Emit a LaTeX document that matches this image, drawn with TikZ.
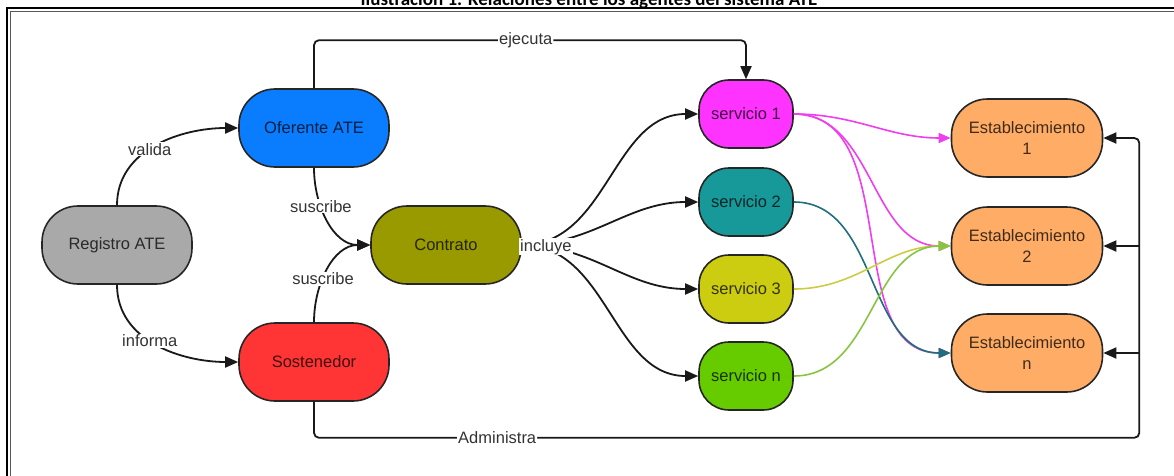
\documentclass[tikz,border=0pt]{standalone}
\usepackage{fontspec}
\setmainfont{Liberation Sans}
\newfontfamily\titlefont{Carlito}
\usetikzlibrary{arrows.meta,calc}
\definecolor{cReg}{HTML}{A9A9A9}
\definecolor{cOfe}{HTML}{0A7DFF}
\definecolor{cSos}{HTML}{FF3535}
\definecolor{cCon}{HTML}{999900}
\definecolor{cS1}{HTML}{FF33FF}
\definecolor{cS2}{HTML}{17999A}
\definecolor{cS3}{HTML}{CCCC11}
\definecolor{cSn}{HTML}{66CC00}
\definecolor{cEst}{HTML}{FFAD66}
\definecolor{lS1}{HTML}{EE3EEE}
\definecolor{lS2}{HTML}{1F6E7C}
\definecolor{lS3}{HTML}{CCCC44}
\definecolor{lSn}{HTML}{88C444}
\begin{document}
\begin{tikzpicture}[x=1pt,y=1pt,
  box/.style={draw=black!85, line width=1.6pt, rounded corners=36pt, minimum width=150pt, minimum height=78pt, inner sep=2pt, align=center, font=\fontsize{16.5}{21}\selectfont},
  nodec/.style={box, fill=#1, text=black!75!#1},
  svc/.style={nodec=#1, minimum width=94pt, minimum height=68pt, rounded corners=30pt},
  conn/.style={draw=black!90, line width=1.8pt, -{Triangle[length=13pt,width=11pt]}},
  cline/.style={draw=#1, line width=1.6pt, -{Triangle[length=12pt,width=10pt]}},
  lbl/.style={fill=white, text=black!80, inner sep=1pt, font=\fontsize{16.5}{20}\selectfont},
]
\useasboundingbox (0,0) rectangle (1174,475);
\clip (0,0) rectangle (1174,475);

% frame and title
\draw[line width=2pt] (6.7,-10) -- (6.7,466.7) -- (1190,466.7);
\draw[line width=1pt, black!65] (10.3,-10) -- (10.3,463) -- (1190,463);
\node[anchor=base, font=\titlefont\bfseries\fontsize{19}{21}\selectfont] (title) at (589,469) {Ilustración 1. Relaciones entre los agentes del sistema ATE};

% nodes
\node[nodec=cReg] (reg) at (117,230) {Registro ATE};
\node[nodec=cOfe] (ofe) at (314,347) {Oferente ATE};
\node[nodec=cSos] (sos) at (314,113) {Sostenedor};
\node[nodec=cCon] (con) at (446,230) {Contrato};
\node[svc=cS1] (s1) at (746,361) {servicio 1};
\node[svc=cS2] (s2) at (746,273) {servicio 2};
\node[svc=cS3] (s3) at (746,186) {servicio 3};
\node[svc=cSn] (sn) at (746,99) {servicio n};
\node[nodec=cEst, minimum width=151pt] (e1) at (1027,337) {Establecimiento\\1};
\node[nodec=cEst, minimum width=151pt] (e2) at (1027,229) {Establecimiento\\2};
\node[nodec=cEst, minimum width=151pt] (en) at (1027,122) {Establecimiento\\n};

% left connectors
\draw[conn] (reg.north) to[out=90,in=180] node[lbl,pos=0.45] {valida} (ofe.west);
\draw[conn] (reg.south) to[out=-90,in=180] node[lbl,pos=0.45] {informa} (sos.west);
\draw[conn] (ofe.south) to[out=-90,in=180] node[lbl,pos=0.35] {suscribe} (con.west);
\draw[conn] (sos.north) to[out=90,in=180] node[lbl,pos=0.4] {suscribe} (con.west);

% ejecuta
\draw[conn, rounded corners=5pt] (ofe.north) -- ++(0,48) -| node[lbl,pos=0.245] {ejecuta} (s1.north);

% colored lines
\draw[cline=lS1] (s1.east) to[out=0,in=180] (e1.west);
\draw[cline=lS1] (s1.east) to[out=0,in=180] (e2.west);
\draw[cline=lS1] (s1.east) to[out=0,in=180] (en.west);
\draw[cline=lS2] (s2.east) to[out=0,in=180] (en.west);
\draw[cline=lS3] (s3.east) to[out=0,in=180] (e2.west);
\draw[cline=lSn] (sn.east) to[out=0,in=180] (e2.west);

% incluye
\draw[conn] (con.east) to[out=0,in=180] (s1.west);
\draw[conn] (con.east) to[out=0,in=180] (s2.west);
\draw[conn] (con.east) to[out=0,in=180] (sn.west);
\draw[conn] (con.east) to[out=0,in=180] node[lbl,pos=0.12] {incluye} (s3.west);

% Administra
\coordinate (b1) at ($(e1.east)+(36,0)$);
\coordinate (b2) at (b1 |- e2.east);
\coordinate (bn) at (b1 |- en.east);
\draw[conn, rounded corners=5pt] (sos.south) -- ++(0,-36) -| node[lbl,pos=0.111] {Administra} (b1) -- (e1.east);
\draw[conn] (b2) -- (e2.east);
\draw[conn] (bn) -- (en.east);
\end{tikzpicture}
\end{document}
